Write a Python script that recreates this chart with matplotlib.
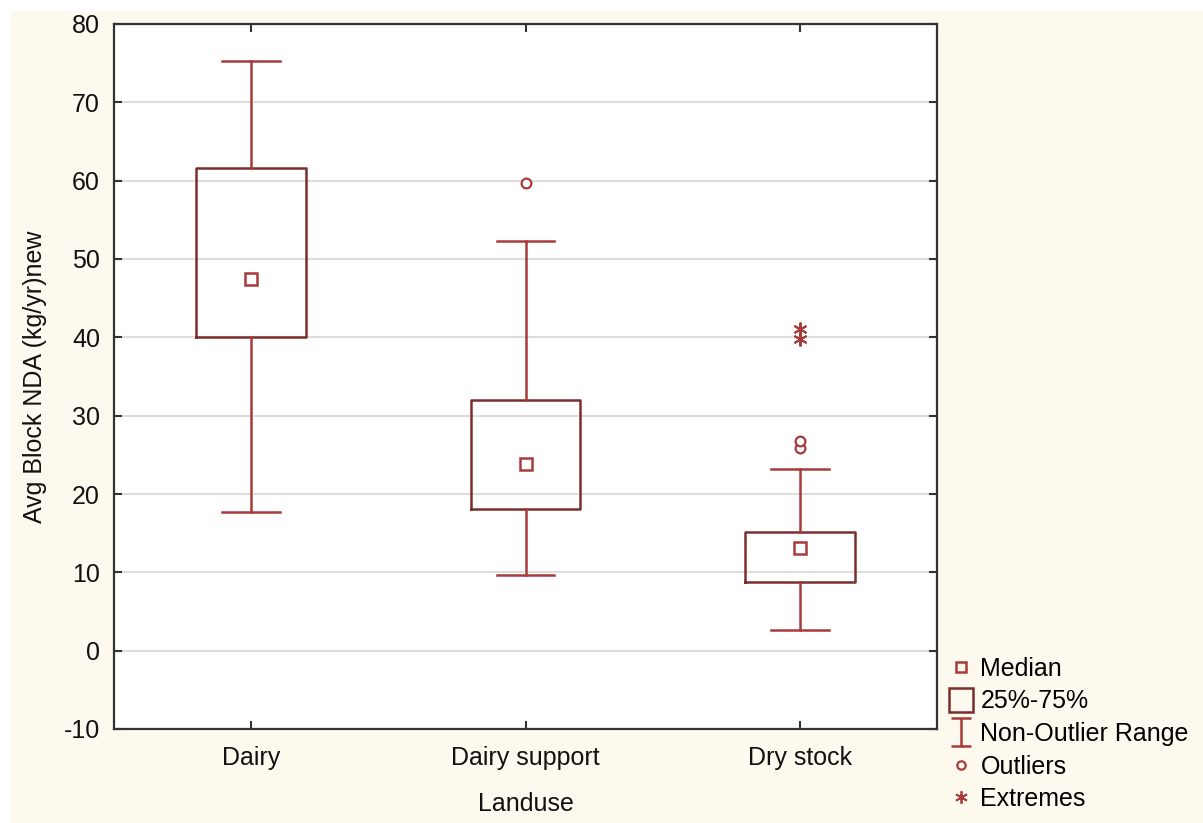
import matplotlib
matplotlib.use('Agg')
from matplotlib import pyplot as plt
from matplotlib.lines import Line2D
from matplotlib.path import Path
from matplotlib.patches import Rectangle

plt.rcParams['font.family'] = ['Liberation Sans', 'DejaVu Sans']
plt.rcParams['axes.unicode_minus'] = False

categories = ['Dairy', 'Dairy support', 'Dry stock']
whisker_low = [17.7, 9.7, 2.6]
q1 = [40.0, 18.1, 8.8]
medians = [47.4, 23.8, 13.1]
q3 = [61.6, 32.0, 15.2]
whisker_high = [75.3, 52.3, 23.2]
outliers = [[], [59.7], [25.9, 26.8]]
extremes = [[], [], [39.8, 41.1]]

y_ticks = [-10, 0, 10, 20, 30, 40, 50, 60, 70, 80]

box_col = '#7A2E2E'
line_col = '#A83A3A'
bg_col = '#FEF9EE'

fig = plt.figure(figsize=(12.03, 8.23), dpi=100)
fig.patch.set_facecolor('white')
fig.patches.append(Rectangle((11 / 1203, 0), 1, 1 - 11 / 823, transform=fig.transFigure,
                             facecolor=bg_col, edgecolor='none', zorder=-10))

ax = fig.add_axes([114 / 1203, 94 / 823, (937 - 114) / 1203, (729 - 24) / 823])
ax.set_facecolor('white')

pos = list(range(1, len(categories) + 1))
stats = []
for i in range(len(categories)):
    stats.append({'whislo': whisker_low[i], 'q1': q1[i], 'med': medians[i],
                  'q3': q3[i], 'whishi': whisker_high[i], 'fliers': []})

ax.bxp(stats, positions=pos, widths=0.4, showfliers=False, patch_artist=False,
       boxprops=dict(color=box_col, linewidth=1.8),
       whiskerprops=dict(color=line_col, linewidth=1.8),
       capprops=dict(color=line_col, linewidth=1.8),
       medianprops=dict(linewidth=0), capwidths=0.21, zorder=3)

ax.plot(pos, medians, linestyle='none', marker='s', markersize=8, mfc='white',
        mec=line_col, mew=1.8, zorder=4)
for i in range(len(categories)):
    if outliers[i]:
        ax.plot([pos[i]] * len(outliers[i]), outliers[i], linestyle='none', marker='o',
                markersize=7, mfc='white', mec=line_col, mew=1.6, zorder=4)
    if extremes[i]:
        ax.plot([pos[i]] * len(extremes[i]), extremes[i], linestyle='none', marker=(6, 2, 0),
                markersize=10, mec=line_col, mew=1.4, zorder=4)

ax.set_xlim(0.5, 3.5)
ax.set_ylim(-10, 80)
ax.set_yticks(y_ticks)
ax.set_xticks(pos)
ax.set_xticklabels(categories)
ax.yaxis.grid(True, color='#DDDDDD', linewidth=1.5)
ax.set_axisbelow(True)
ax.tick_params(direction='in', length=6, width=1.5, colors='#333333', labelsize=18,
               labelcolor='#111111', top=True, right=True)
ax.tick_params(axis='y', pad=10)
ax.tick_params(axis='x', pad=12)
for s in ax.spines.values():
    s.set_color('#333333')
    s.set_linewidth(1.6)

ax.set_xlabel('Landuse', fontsize=18, color='#111111', labelpad=16)
ax.set_ylabel('Avg Block NDA (kg/yr)new', fontsize=18, color='#111111', labelpad=12)

# I-beam marker for the whisker range
ibeam = Path([(-0.7, -1), (0.7, -1), (0, -1), (0, 1), (-0.7, 1), (0.7, 1)],
             [Path.MOVETO, Path.LINETO, Path.MOVETO, Path.LINETO, Path.MOVETO, Path.LINETO])

handles = [
    Line2D([], [], linestyle='none', marker='s', markersize=7, mfc='none', mec=line_col, mew=1.8),
    Line2D([], [], linestyle='none', marker='s', markersize=17, mfc='none', mec=box_col, mew=1.8),
    Line2D([], [], linestyle='none', marker=ibeam, markersize=20, mec=line_col, mew=1.8),
    Line2D([], [], linestyle='none', marker='o', markersize=6, mfc='none', mec=line_col, mew=1.6),
    Line2D([], [], linestyle='none', marker=(6, 2, 0), markersize=9, mec=line_col, mew=1.3),
]
labels = ['Median', '25%-75%', 'Non-Outlier Range', 'Outliers', 'Extremes']
fig.legend(handles, labels, loc='upper left', bbox_to_anchor=(948 / 1203, 1 - 657 / 823),
           frameon=False, fontsize=18, handlelength=1.0, handletextpad=0.3,
           labelspacing=0.34, borderaxespad=0, borderpad=0)

fig.savefig('out.png', dpi=100, facecolor=fig.get_facecolor())
